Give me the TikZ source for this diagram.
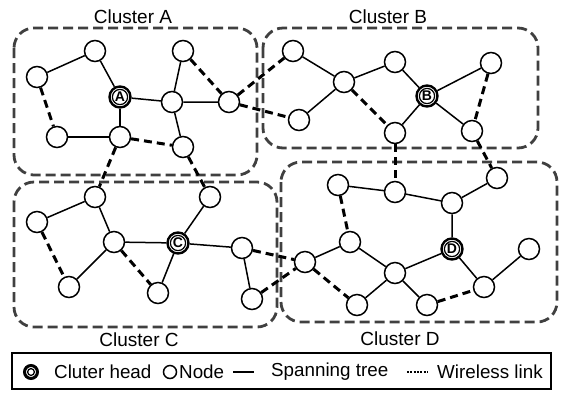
\documentclass[tikz,border=0pt]{standalone}
\usepackage{fontspec}
\setmainfont{Liberation Sans}
\begin{document}
\begin{tikzpicture}[x=1bp,y=-1bp,
  nd/.style={circle,draw,fill=white,line width=1.5bp,minimum size=21bp,inner sep=0pt},
  hd/.style={circle,draw,fill=white,line width=2.4bp,minimum size=21bp,inner sep=0pt,
             font=\fontsize{14bp}{14bp}\selectfont\bfseries},
  ring/.style={line width=1.2bp},
  tree/.style={line width=1.5bp},
  wl/.style={line width=3bp,dash pattern=on 8bp off 5bp},
  cluster/.style={draw=black!75,line width=2.8bp,dash pattern=on 10bp off 5bp,rounded corners=20bp},
  ctitle/.style={font=\fontsize{19bp}{20bp}\selectfont,inner sep=0pt},
  ltext/.style={font=\fontsize{18.8bp}{20bp}\selectfont,inner sep=0pt,anchor=west},
]
\useasboundingbox (0,0) rectangle (562,394);

% cluster outlines
\draw[cluster] (14,28) rectangle (257,175);
\draw[cluster] (263,28) rectangle (538,148);
\draw[cluster] (14,182) rectangle (277,327);
\draw[cluster] (281,162) rectangle (557,322);

% cluster titles
\node[ctitle] (tA) at (133,17) {Cluster A};
\node[ctitle] (tB) at (388,17) {Cluster B};
\node[ctitle] (tC) at (139,340) {Cluster C};
\node[ctitle] (tD) at (400,339) {Cluster D};

% cluster A
\node[nd] (a1) at (95,51) {};
\node[nd] (a2) at (37,77) {};
\node[hd] (A)  at (120,97) {A};
\node[nd] (a3) at (183,51) {};
\node[nd] (a4) at (172,102) {};
\node[nd] (a5) at (229,102) {};
\node[nd] (a6) at (57,137) {};
\node[nd] (a7) at (120,137) {};
\node[nd] (a8) at (183,147) {};

% cluster B
\node[nd] (b1) at (293,51) {};
\node[nd] (b2) at (299,120) {};
\node[nd] (b3) at (344,82) {};
\node[nd] (b4) at (395,62) {};
\node[hd] (B)  at (427,96) {B};
\node[nd] (b5) at (491,63) {};
\node[nd] (b6) at (395,133) {};
\node[nd] (b7) at (472,131) {};

% cluster C
\node[nd] (c1) at (95,197) {};
\node[nd] (c2) at (37,222) {};
\node[nd] (c3) at (114,242) {};
\node[hd] (C)  at (178,243) {C};
\node[nd] (c4) at (210,197) {};
\node[nd] (c5) at (242,248) {};
\node[nd] (c6) at (69,287) {};
\node[nd] (c7) at (158,293) {};
\node[nd] (c8) at (252,299) {};

% cluster D
\node[nd] (d1) at (338,185) {};
\node[nd] (d2) at (395,192) {};
\node[nd] (d3) at (452,203) {};
\node[nd] (d4) at (497,178) {};
\node[hd] (D)  at (452,249) {D};
\node[nd] (d5) at (305,262) {};
\node[nd] (d6) at (350,242) {};
\node[nd] (d7) at (395,273) {};
\node[nd] (d8) at (529,249) {};
\node[nd] (d9) at (484,287) {};
\node[nd] (d10) at (357,305) {};
\node[nd] (d11) at (427,305) {};

% inner rings of the cluster heads
\foreach \h in {A,B,C,D} \draw[ring] (\h) circle (7.6bp);

% spanning tree
\draw[tree] (a2) -- (a1) -- (A) -- (a4) -- (a5);
\draw[tree] (A) -- (a7) -- (a6);
\draw[tree] (a3) -- (a4) -- (a8);
\draw[tree] (b1) -- (b3) -- (b2);
\draw[tree] (b3) -- (b4) -- (B) -- (b5);
\draw[tree] (B) -- (b6);
\draw[tree] (B) -- (b7);
\draw[tree] (c2) -- (c1) -- (c3) -- (C) -- (c4);
\draw[tree] (c3) -- (c6);
\draw[tree] (C) -- (c7);
\draw[tree] (C) -- (c5) -- (c8);
\draw[tree] (d1) -- (d2) -- (d3) -- (d4);
\draw[tree] (d3) -- (D) -- (d7);
\draw[tree] (D) -- (d9) -- (d8);
\draw[tree] (d5) -- (d6) -- (d7) -- (d10);
\draw[tree] (d7) -- (d11);

% wireless links
\draw[wl] (a2) -- (a6);
\draw[wl] (a3) -- (a5);
\draw[wl] (a7) -- (a8);
\draw[wl] (a5) -- (b1);
\draw[wl] (a5) -- (b2);
\draw[wl] (a7) -- (c1);
\draw[wl] (a8) -- (c4);
\draw[wl] (b3) -- (b6);
\draw[wl] (b5) -- (b7);
\draw[wl] (b6) -- (d2);
\draw[wl] (b7) -- (d4);
\draw[wl] (c2) -- (c6);
\draw[wl] (c3) -- (c7);
\draw[wl] (c5) -- (d5);
\draw[wl] (c8) -- (d5);
\draw[wl] (d1) -- (d6);
\draw[wl] (d5) -- (d10);
\draw[wl] (d11) -- (d9);

% legend
\draw[line width=1.2bp] (12,353) rectangle (551,389);
\node[circle,draw,fill=white,line width=3bp,minimum size=13bp,inner sep=0pt] (lh) at (31,372) {};
\draw[line width=1.3bp] (lh) circle (3.4bp);
\node[ltext] (lht) at (54,372) {Cluter head};
\node[circle,draw,fill=white,line width=1.5bp,minimum size=13bp,inner sep=0pt] (ln) at (170,372) {};
\node[ltext] (lnt) at (179,372) {Node};
\coordinate (ls1) at (233,372);
\coordinate (ls2) at (254,372);
\draw[tree] (ls1) -- (ls2);
\node[ltext] (lst) at (271,372) {Spanning tree};
\coordinate (lw1) at (407,372);
\coordinate (lw2) at (428,372);
\draw[line width=2bp,dash pattern=on 2bp off 1.3bp] (lw1) -- (lw2);
\node[ltext] (lwt) at (437,372) {Wireless link};
\end{tikzpicture}
\end{document}
